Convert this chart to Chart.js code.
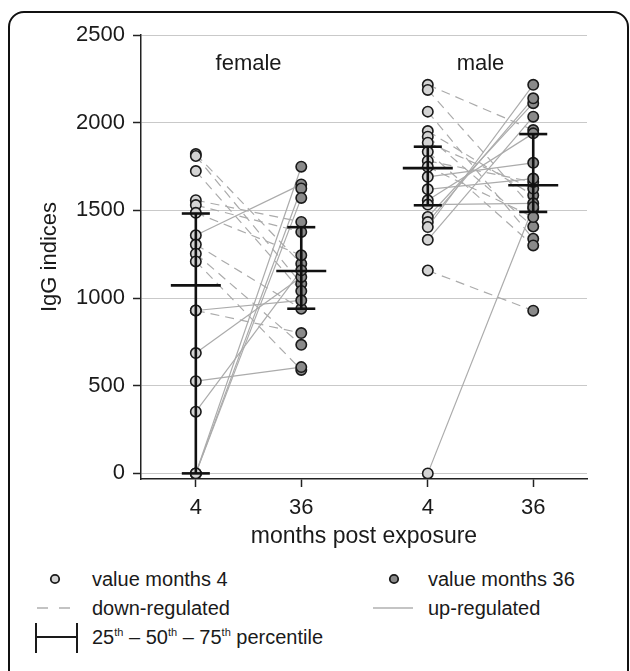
<!DOCTYPE html>
<html>
<head>
<meta charset="utf-8">
<title>IgG indices</title>
<script src="https://cdn.jsdelivr.net/npm/chart.js@4.4.0/dist/chart.umd.min.js"></script>
<style>
  body { margin: 0; background: #fff; font-family: "Liberation Sans", Arial, sans-serif; color: #1a1a1a; }
  #frame { position: absolute; left: 8px; top: 11px; width: 617px; height: 700px; border: 2px solid #111; border-radius: 16px; }
  #chartBox { position: absolute; left: 0; top: 0; width: 630px; height: 560px; }
  #legendSymbols { position: absolute; left: 0; top: 560px; }
  .lg { position: absolute; font-size: 20px; line-height: 24px; white-space: nowrap; }
  .lg sup { font-size: 11px; vertical-align: 8px; line-height: 0; }
</style>
</head>
<body>
<div id="frame"></div>
<div id="chartBox"><canvas id="iggChart" width="630" height="560"></canvas></div>

<svg id="legendSymbols" width="630" height="111">
  <circle cx="55" cy="19" r="4.2" fill="#d4d4d4" stroke="#1a1a1a" stroke-width="1.8"></circle>
  <circle cx="394" cy="19" r="4.2" fill="#8a8a8a" stroke="#1a1a1a" stroke-width="1.8"></circle>
  <line x1="37" y1="48" x2="70" y2="48" stroke="#b0b0b0" stroke-width="1.3" stroke-dasharray="11,11"></line>
  <line x1="373" y1="48" x2="413" y2="48" stroke="#b0b0b0" stroke-width="1.3"></line>
  <line x1="36" y1="63" x2="36" y2="93" stroke="#1a1a1a" stroke-width="2"></line>
  <line x1="77" y1="63" x2="77" y2="93" stroke="#1a1a1a" stroke-width="2"></line>
  <line x1="36" y1="77" x2="77" y2="77" stroke="#1a1a1a" stroke-width="2"></line>
</svg>
<div class="lg" style="left:92px; top:567px;">value months 4</div>
<div class="lg" style="left:428px; top:567px;">value months 36</div>
<div class="lg" style="left:92px; top:596px;">down-regulated</div>
<div class="lg" style="left:428px; top:596px;">up-regulated</div>
<div class="lg" style="left:92px; top:625px;">25<sup>th</sup> – 50<sup>th</sup> – 75<sup>th</sup> percentile</div>

<script>
// x positions of the four columns (female 4, female 36, male 4, male 36)
const xTickPositions = [1, 2, 3.2, 4.2];
const xTickLabels = ["4", "36", "4", "36"];
const yTickValues = [0, 500, 1000, 1500, 2000, 2500];
const groupLabels = ["female", "male"];

// paired IgG indices, same subject at the same index
const female4 = [1821, 1810, 1724, 1558, 1530, 1486, 1358, 1305, 1253, 1209, 929, 929, 686, 526, 352, 0, 0, 0];
const female36 = [1196, 1082, 1040, 1434, 1377, 1244, 1648, 939, 733, 590, 800, 987, 1120, 606, 1158, 1749, 1625, 1571];
const male4 = [2216, 2187, 2063, 1952, 1920, 1886, 1834, 1782, 1748, 1691, 1620, 1557, 1533, 1462, 1433, 1405, 1332, 1157, 0];
const male36 = [1958, 1510, 1338, 1586, 1408, 1624, 1300, 1662, 1462, 1771, 1681, 1939, 1540, 2111, 2139, 2216, 2034, 928, 1519];

// 25th, 50th, 75th percentile per column
const pctFemale4 = [0, 1072, 1482];
const pctFemale36 = [939, 1154, 1404];
const pctMale4 = [1529, 1741, 1863];
const pctMale36 = [1491, 1643, 1935];

const FONT = '"Liberation Sans", Arial, sans-serif';
const MEDIAN_HALF = 0.237; // half width of the median bar, x units
const QUART_HALF = 0.133;

function pairLines(before, after, x0, x1) {
  return before.map((v, i) => ({
    type: "line",
    data: [{ x: x0, y: v }, { x: x1, y: after[i] }],
    borderColor: "#ababab",
    borderWidth: 1.2,
    borderDash: after[i] < v ? [9, 6] : [],
    pointRadius: 0,
    fill: false,
    order: 3,
  }));
}

function pointSet(values, x, fill) {
  return {
    type: "scatter",
    data: values.map((v) => ({ x, y: v })),
    backgroundColor: fill,
    borderColor: "#1a1a1a",
    borderWidth: 1.6,
    pointRadius: 5.2,
    order: 2,
  };
}

function percentileSets(p, x) {
  const base = { type: "line", borderColor: "#111", borderWidth: 2.6, pointRadius: 0, fill: false, order: 1 };
  return [
    { ...base, data: [{ x, y: p[0] }, { x, y: p[2] }] },
    { ...base, data: [{ x: x - QUART_HALF, y: p[0] }, { x: x + QUART_HALF, y: p[0] }] },
    { ...base, data: [{ x: x - MEDIAN_HALF, y: p[1] }, { x: x + MEDIAN_HALF, y: p[1] }] },
    { ...base, data: [{ x: x - QUART_HALF, y: p[2] }, { x: x + QUART_HALF, y: p[2] }] },
  ];
}

const [xF4, xF36, xM4, xM36] = xTickPositions;

const datasets = [
  ...percentileSets(pctFemale4, xF4),
  ...percentileSets(pctFemale36, xF36),
  ...percentileSets(pctMale4, xM4),
  ...percentileSets(pctMale36, xM36),
  pointSet(female4, xF4, "#d4d4d4"),
  pointSet(female36, xF36, "#8a8a8a"),
  pointSet(male4, xM4, "#d4d4d4"),
  pointSet(male36, xM36, "#8a8a8a"),
  ...pairLines(female4, female36, xF4, xF36),
  ...pairLines(male4, male36, xM4, xM36),
];

// "female" / "male" headings above each pair of columns
const groupLabelPlugin = {
  id: "groupLabels",
  afterDatasetsDraw(chart) {
    const { ctx, chartArea, scales } = chart;
    const centers = [(xF4 + xF36) / 2, (xM4 + xM36) / 2];
    ctx.save();
    ctx.font = "22px " + FONT;
    ctx.fillStyle = "#1a1a1a";
    ctx.textAlign = "center";
    ctx.textBaseline = "middle";
    groupLabels.forEach((label, i) => {
      ctx.fillText(label, scales.x.getPixelForValue(centers[i]), chartArea.top + 29);
    });
    ctx.restore();
  },
};

new Chart(document.getElementById("iggChart").getContext("2d"), {
  data: { datasets },
  plugins: [groupLabelPlugin],
  options: {
    responsive: false,
    animation: false,
    layout: { padding: { left: 0, right: 43, top: 35, bottom: 0 } },
    plugins: { legend: { display: false }, tooltip: { enabled: false } },
    scales: {
      x: {
        type: "linear",
        min: 0.48,
        max: 4.71,
        afterBuildTicks: (scale) => {
          scale.ticks = xTickPositions.map((v) => ({ value: v }));
        },
        afterFit: (scale) => {
          scale.height = 81;
        },
        ticks: {
          padding: 8,
          color: "#1a1a1a",
          font: { family: FONT, size: 22 },
          callback: (v) => xTickLabels[xTickPositions.indexOf(v)],
        },
        grid: { drawOnChartArea: false, drawTicks: true, tickLength: 8, tickColor: "#222", tickWidth: 1.5 },
        border: { color: "#222", width: 1.5 },
        title: {
          display: true,
          text: "months post exposure",
          color: "#1a1a1a",
          font: { family: FONT, size: 23 },
          padding: { top: 0, bottom: 10 },
        },
      },
      y: {
        type: "linear",
        min: -32,
        max: 2500,
        afterBuildTicks: (scale) => {
          scale.ticks = yTickValues.map((v) => ({ value: v }));
        },
        afterFit: (scale) => {
          scale.width = 141;
        },
        ticks: {
          padding: 8,
          color: "#1a1a1a",
          font: { family: FONT, size: 22 },
          callback: (v) => String(v),
        },
        grid: { color: "#c9c9c9", lineWidth: 1, tickLength: 8, tickColor: "#222", tickWidth: 1.5 },
        border: { color: "#222", width: 1.5 },
        title: {
          display: true,
          text: "IgG indices",
          color: "#1a1a1a",
          font: { family: FONT, size: 22 },
          padding: { top: 37, bottom: 0 },
        },
      },
    },
  },
});
</script>
</body>
</html>
